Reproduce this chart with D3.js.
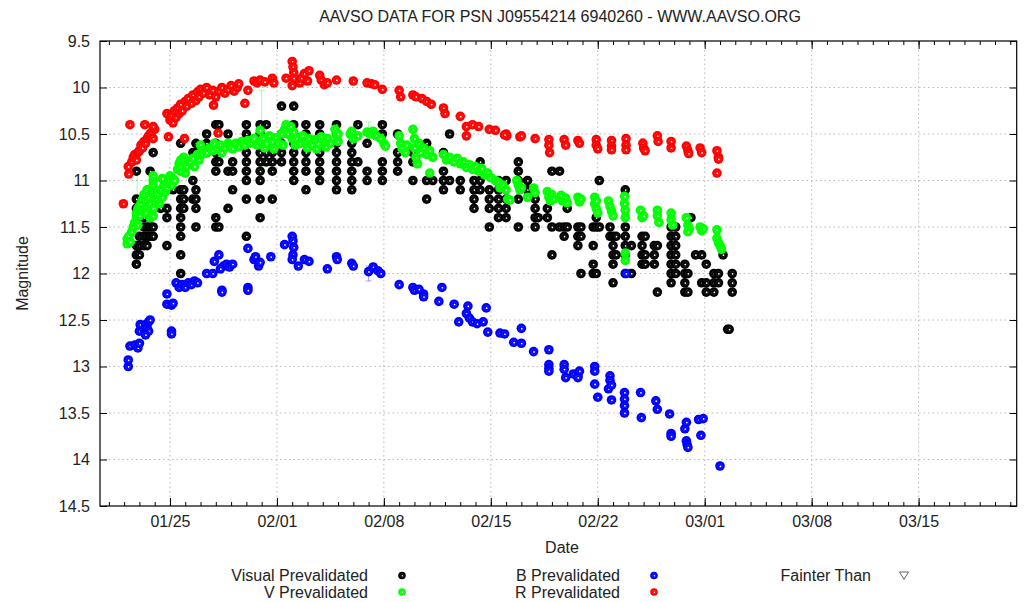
<html>
<head>
<meta charset="utf-8">
<script src="https://d3js.org/d3.v7.min.js"></script>
<style>
body { margin: 0; background: white; }
svg { display: block; font-family: "Liberation Sans", Arial, sans-serif; }
.tick text { font-size: 16px; fill: #222; font-family: "Liberation Sans", Arial, sans-serif; }
.lbl { font-size: 16px; fill: #222; }
</style>
</head>
<body>
<svg width="1030" height="602"></svg>
<script>
// days are day-of-year 2014 (25 = Jan 25, 32 = Feb 1, 60 = Mar 1)
var title = "AAVSO DATA FOR PSN J09554214 6940260 - WWW.AAVSO.ORG";
var dayRange = [20.42, 80.42];
var magRange = [9.5, 14.5];
var majorDays = [25, 32, 39, 46, 53, 60, 67, 74];
var magTicks = [9.5, 10, 10.5, 11, 11.5, 12, 12.5, 13, 13.5, 14, 14.5];

// visual estimates, grouped by night: [day, [magnitudes]]
var visualObs = [
  [22.8, [10.9, 11.2, 11.3, 11.7, 11.8, 11.9]],
  [23.0, [11.6, 11.7, 11.8]],
  [23.3, [11.4, 11.5, 11.6, 11.7]],
  [23.5, [11.5, 11.6, 11.7]],
  [23.7, [10.9, 11.4, 11.5, 11.6]],
  [23.9, [10.7, 11.5, 11.6]],
  [24.4, [11.3]],
  [24.8, [11.0, 11.3, 11.4, 11.7]],
  [25.2, [11.0, 11.1]],
  [25.7, [10.6, 11.1, 11.2, 11.3, 11.4, 11.5, 11.6, 11.8, 12.0]],
  [25.9, [11.1, 11.2, 11.3]],
  [26.5, [10.7, 11.0, 11.2]],
  [26.7, [10.6, 10.7, 11.1, 11.2, 11.3, 11.5]],
  [27.4, [10.5, 10.6, 10.7]],
  [28.0, [10.4, 10.6, 10.7, 10.8, 10.9, 11.4, 11.5]],
  [28.2, [10.4, 10.8, 11.5]],
  [28.8, [10.5, 10.9, 11.3]],
  [29.1, [10.8, 10.9, 11.1]],
  [30.0, [10.4, 10.5, 10.6, 10.7, 10.8, 10.9, 11.0, 11.2, 11.6]],
  [30.9, [10.4, 10.5, 10.7, 10.8, 10.9, 11.0, 11.2, 11.4]],
  [31.3, [10.4, 10.7, 10.8]],
  [31.7, [10.6, 10.7, 10.8, 10.9, 11.2]],
  [32.3, [10.2, 10.5, 10.6, 10.7, 10.8]],
  [33.1, [10.2, 10.4, 10.5, 10.6, 10.7, 10.8, 10.9, 11.0]],
  [33.9, [10.4, 10.5, 10.7, 10.8, 10.9, 11.1]],
  [34.8, [10.4, 10.5, 10.6, 10.7, 10.8, 10.9, 11.0]],
  [35.9, [10.4, 10.5, 10.6, 10.7, 10.8, 10.9, 11.0, 11.1]],
  [36.9, [10.5, 10.6, 10.7, 10.8, 10.9, 11.0, 11.1]],
  [37.3, [10.4, 10.8]],
  [37.9, [10.6, 10.9, 11.0]],
  [38.9, [10.4, 10.5, 10.8, 10.9, 11.0]],
  [39.9, [10.5, 10.7, 10.8, 10.9]],
  [40.9, [10.7, 10.8, 11.0]],
  [41.8, [10.6, 11.0, 11.2]],
  [42.2, [11.0]],
  [42.9, [10.7, 10.9, 11.0, 11.1]],
  [43.3, [10.5, 11.0]],
  [44.0, [11.0, 11.1]],
  [44.9, [11.0, 11.1, 11.2, 11.3]],
  [45.3, [10.8, 11.0, 11.1]],
  [45.9, [11.1, 11.2, 11.3, 11.5]],
  [46.5, [11.0, 11.1, 11.2, 11.3, 11.4]],
  [47.0, [11.0, 11.2, 11.3, 11.4]],
  [47.8, [10.8, 10.9, 11.0, 11.2, 11.5]],
  [48.4, [11.0, 11.1]],
  [48.9, [11.2, 11.3, 11.4, 11.5]],
  [49.1, [11.4]],
  [49.7, [11.3, 11.4]],
  [50.0, [10.9, 11.5, 11.8]],
  [50.5, [10.9, 11.5]],
  [50.8, [11.5, 11.6]],
  [51.0, [11.3, 11.5]],
  [51.7, [11.5, 11.6, 11.7]],
  [51.9, [11.5, 11.6, 12.0]],
  [52.7, [11.5, 11.7, 11.9, 12.0]],
  [52.9, [11.4, 11.5, 12.0]],
  [53.1, [11.0, 11.5]],
  [53.8, [11.5, 11.6]],
  [54.0, [11.6, 11.7, 11.8, 11.9, 12.1]],
  [54.2, [11.6, 11.8]],
  [54.8, [11.1, 11.5, 11.6, 11.7, 11.8, 12.0]],
  [55.2, [11.7, 12.0]],
  [55.9, [11.6, 11.7, 11.8, 11.9]],
  [56.1, [11.6, 11.8, 11.9]],
  [56.7, [11.7, 11.8, 11.9]],
  [56.9, [11.7, 12.2]],
  [57.8, [11.5, 11.6, 11.7, 11.8, 11.9, 12.0, 12.1]],
  [58.1, [11.5, 11.6, 11.7, 11.8, 11.9, 12.0]],
  [58.7, [11.9, 12.0, 12.1, 12.2]],
  [58.9, [12.0, 12.2]],
  [59.1, [11.4]],
  [59.4, [11.8]],
  [59.8, [11.8, 12.1]],
  [60.1, [11.9, 12.1, 12.2]],
  [60.6, [12.0, 12.1, 12.2]],
  [60.9, [12.0, 12.1]],
  [61.2, [11.8]],
  [61.5, [12.6]],
  [61.6, [12.6]],
  [61.8, [12.0, 12.1, 12.2]]
];

// V band: [day, magnitude]
var vObs = [
  [22.2,11.68],[22.2,11.63],[22.3,11.60],[22.4,11.66],[22.5,11.55],[22.6,11.50],
  [22.7,11.45],[22.8,11.40],[22.8,11.35],[22.9,11.30],[23.0,11.28],[23.0,11.38],[22.9,11.48],
  [23.1,11.25],[23.2,11.20],[23.2,11.32],[23.3,11.15],[23.4,11.22],[23.4,11.35],[23.5,11.10],
  [23.5,11.28],[23.6,11.18],[23.7,11.25],[23.7,11.40],[23.8,11.12],[23.9,11.00],[23.9,10.95],
  [23.9,11.05],[23.9,11.15],[23.9,11.30],[23.9,11.38],
  [24.1,11.20],[24.2,11.15],[24.3,11.25],[24.4,11.10],[24.5,11.18],[24.5,10.98],[24.6,11.05],[24.7,11.12],[24.8,11.08],
  [24.9,11.00],[25.0,10.95],[25.1,11.05],[25.2,10.98],[25.3,11.00],[25.5,10.88],
  [25.6,10.82],[25.7,10.78],[25.7,10.90],[25.8,10.85],[25.9,10.75],[26.0,10.80],[26.0,10.92],[26.1,10.85],
  [26.3,10.80],[26.5,10.76],[26.6,10.85],[26.8,10.72],[26.9,10.78],
  [27.0,10.62],[27.1,10.68],[27.1,10.72],
  [27.4,10.70],[27.6,10.65],[27.8,10.68],[27.9,10.60],[28.1,10.66],[28.3,10.62],[28.4,10.70],
  [28.6,10.65],[28.8,10.60],[28.9,10.63],[29.1,10.66],
  [29.3,10.60],[29.5,10.64],[29.7,10.58],[29.9,10.62],[30.1,10.57],[30.3,10.60],[30.5,10.55],
  [30.7,10.62],[30.9,10.58],[30.9,10.46],
  [31.1,10.55],[31.2,10.65],[31.3,10.60],[31.5,10.52],[31.7,10.58],[31.8,10.66],[31.9,10.54],
  [32.1,10.60],[32.3,10.50],[32.4,10.62],
  [32.5,10.45],[32.6,10.40],[32.7,10.50],[32.9,10.42],[33.0,10.55],[33.1,10.48],[33.2,10.62],
  [33.3,10.55],[33.5,10.60],[33.7,10.52],[33.9,10.58],[34.0,10.65],[34.1,10.55],[34.3,10.62],[34.5,10.56],
  [34.6,10.66],[34.7,10.60],[34.9,10.53],[35.1,10.58],[35.2,10.64],[35.3,10.55],[35.5,10.60],
  [35.8,10.45],[35.9,10.52],[36.0,10.50],[36.0,10.58],
  [36.8,10.50],[36.9,10.47],[37.0,10.55],[37.3,10.52],
  [37.9,10.48],[38.1,10.50],[38.3,10.47],[38.5,10.52],
  [38.8,10.55],[39.0,10.60],[39.1,10.63],
  [40.0,10.52],[40.1,10.60],[40.2,10.66],[40.4,10.70],[40.5,10.62],
  [40.9,10.45],[41.0,10.55],[41.0,10.65],[41.1,10.75],[41.2,10.82],[41.3,10.60],[41.4,10.70],
  [41.6,10.65],[41.8,10.72],[42.0,10.68],[42.2,10.75],[42.0,10.92],
  [42.9,10.72],[43.1,10.78],[43.3,10.75],[43.6,10.80],[43.8,10.76],[44.0,10.82],
  [44.2,10.80],[44.4,10.86],[44.6,10.83],[44.8,10.88],[45.0,10.85],
  [45.2,10.90],[45.4,10.87],[45.6,10.94],[45.8,10.92],[46.0,10.97],
  [46.3,11.00],[46.5,11.02],[46.6,11.08],[46.8,11.05],[47.0,11.10],[47.1,11.20],[47.25,11.21],
  [47.7,11.00],[47.8,11.05],[47.9,11.10],[48.0,11.08],[48.4,11.18],[48.8,11.08],[48.9,11.13],
  [49.7,11.12],[49.8,11.18],[49.9,11.22],[50.0,11.15],[50.1,11.20],
  [50.6,11.16],[50.7,11.22],[50.9,11.19],[51.0,11.24],
  [51.7,11.18],[51.8,11.23],[51.9,11.20],
  [52.8,11.18],[52.8,11.25],[52.9,11.30],[53.0,11.35],[52.9,11.22],
  [53.7,11.22],[53.8,11.28],[53.9,11.33],[54.0,11.38],
  [54.75,11.17],[54.75,11.25],[54.8,11.32],[54.8,11.40],[54.8,11.78],[54.8,11.86],
  [55.8,11.32],[55.9,11.40],[56.0,11.38],
  [56.9,11.32],[56.9,11.38],[57.0,11.45],
  [57.8,11.35],[57.8,11.42],[57.9,11.48],
  [58.8,11.40],[58.9,11.48],[59.0,11.52],[58.9,11.55],
  [59.7,11.50],[59.8,11.54],[59.9,11.52],
  [60.8,11.53],[60.8,11.62],[60.9,11.67],[61.0,11.70],[61.1,11.74]
];

// B band
var bObs = [
  [22.27,13.0],[22.27,12.93],[22.38,12.78],[22.7,12.77],[22.9,12.8],[23.0,12.75],[23.0,12.62],
  [23.05,12.55],[23.3,12.6],[23.4,12.55],[23.5,12.58],[23.6,12.52],[23.7,12.5],[23.6,12.62],[23.4,12.66],
  [24.8,12.22],[24.8,12.33],[25.1,12.34],[25.2,12.32],[25.1,12.62],[25.1,12.65],
  [25.4,12.1],[25.6,12.15],[25.8,12.12],[26.0,12.15],[26.2,12.1],[26.4,12.12],[26.6,12.08],[26.8,12.1],
  [27.4,12.0],[27.8,12.0],[27.9,11.87],[28.2,11.8],[28.5,11.92],[28.7,11.9],[28.9,11.93],[29.1,11.9],[28.3,11.95],
  [28.4,12.18],[28.4,12.2],[30.1,12.15],[30.1,12.18],
  [30.1,11.73],[30.5,11.85],[30.6,11.82],[30.8,11.92],[30.9,11.88],[31.6,11.82],
  [32.5,11.69],[33.0,11.6],[33.05,11.65],[33.1,11.72],[33.05,11.8],[33.0,11.85],[33.4,11.92],[33.8,11.85],[34.1,11.87],
  [35.3,11.95],[35.9,11.82],[35.95,11.85],[36.9,11.89],[37.0,11.92],
  [38.0,11.98],[38.3,11.93],[38.6,11.97],[38.8,12.0],
  [40.0,12.12],[40.9,12.15],[41.0,12.18],[41.3,12.17],[41.6,12.22],[41.6,12.25],[42.6,12.3],[42.8,12.15],
  [43.6,12.33],[43.9,12.52],[44.5,12.35],[44.4,12.43],[44.6,12.48],[44.8,12.52],[45.1,12.54],[45.5,12.52],
  [45.7,12.37],[45.8,12.63],[46.6,12.64],[47.5,12.74],
  [46.9,12.65],[48.0,12.59],[48.0,12.75],[48.8,12.84],[49.8,12.82],[49.8,12.98],[49.8,13.02],[49.8,13.05],
  [50.8,12.98],[50.8,13.03],[50.9,13.12],[51.4,13.08],[51.7,13.1],[51.8,13.05],[51.7,13.12],
  [52.8,13.0],[52.8,13.05],[52.8,13.19],[53.0,13.33],[53.7,13.24],[53.8,13.1],[53.8,13.15],[53.9,13.2],[53.9,13.36],
  [54.75,13.28],[54.75,13.35],[54.75,13.42],[54.75,13.5],[54.85,12.0],[55.8,13.28],[55.85,13.55],
  [56.8,13.37],[56.9,13.46],[57.7,13.51],[57.8,13.72],[57.8,13.75],
  [58.7,13.67],[58.8,13.6],[58.8,13.8],[58.85,13.84],[58.9,13.87],[59.6,13.57],[59.9,13.56],[59.75,13.74],
  [61.0,14.07]
];

// R band
var rObs = [
  [21.95,11.25],[22.27,10.85],[22.3,10.93],[22.38,10.40],
  [22.5,10.80],[22.6,10.75],[22.7,10.72],[22.8,10.78],[22.9,10.70],[23.0,10.68],
  [23.1,10.62],[23.2,10.65],[23.3,10.58],[23.4,10.60],[23.5,10.55],[23.6,10.52],[23.7,10.50],
  [23.8,10.48],[23.9,10.55],[24.0,10.45],[23.35,10.40],[23.9,10.42],
  [24.8,10.28],[24.9,10.53],
  [25.0,10.35],[25.1,10.30],[25.2,10.38],[25.3,10.25],[25.4,10.32],[25.5,10.22],[25.6,10.28],
  [25.7,10.18],[25.8,10.25],[26.0,10.15],[25.95,10.55],
  [26.1,10.20],[26.2,10.12],[26.4,10.17],[26.5,10.08],[26.7,10.14],[26.8,10.05],[26.9,10.10],
  [27.0,10.02],[27.2,10.06],[27.4,10.00],[27.6,10.08],[27.8,10.03],[28.0,10.10],[28.2,10.04],
  [28.4,10.00],[28.6,10.06],[28.8,10.02],[29.0,9.98],[29.2,10.04],[29.4,10.00],[29.5,9.96],
  [27.85,10.19],[28.15,10.49],[29.9,10.17],[30.1,10.03],
  [30.5,9.93],[30.7,9.95],[30.9,9.92],[31.2,9.94],[31.7,9.90],[31.8,9.95],[32.6,9.90],
  [33.0,9.72],[33.05,9.78],[33.1,9.84],[33.1,9.90],[33.0,9.98],
  [33.5,9.95],[33.6,9.90],[33.8,9.85],[34.0,9.93],[34.1,9.82],
  [34.8,9.87],[34.9,9.92],[35.1,9.97],[35.3,9.95],[35.9,9.92],[37.0,9.93],
  [37.9,9.95],[38.2,9.96],[38.4,9.97],[38.9,10.02],
  [40.0,10.03],[40.1,10.10],[40.9,10.08],[41.1,10.10],
  [41.5,10.12],[41.8,10.15],[42.1,10.18],[42.9,10.22],[43.0,10.28],[44.0,10.31],
  [44.4,10.42],[44.4,10.52],[44.8,10.40],[45.2,10.42],[45.9,10.45],[46.3,10.46],
  [47.0,10.50],[47.05,10.52],[47.9,10.53],[46.9,10.51],[48.0,10.52],[48.9,10.55],
  [49.8,10.56],[49.8,10.62],[49.85,10.70],[50.8,10.56],[50.9,10.62],[51.7,10.57],[51.8,10.60],
  [52.9,10.56],[52.9,10.62],[53.0,10.66],[53.9,10.57],[53.9,10.63],[53.9,10.67],
  [54.85,10.55],[54.85,10.62],[54.85,10.67],[55.95,10.60],[56.0,10.65],[56.1,10.68],
  [56.9,10.52],[56.95,10.58],[57.8,10.58],[57.8,10.65],
  [58.8,10.63],[58.9,10.68],[58.95,10.71],[59.7,10.65],[59.8,10.70],
  [60.8,10.68],[60.9,10.75],[60.9,10.77],[60.8,10.92]
];

// error bars: [band, day, magnitude, error]
var errorBars = [
  ["V", 22.85, 11.40, 0.50],
  ["V", 31.0, 10.44, 0.41],
  ["V", 38.0, 10.43, 0.06],
  ["B", 38.0, 12.00, 0.08],
  ["R", 49.8, 10.58, 0.04],
  ["R", 55.95, 10.62, 0.07]
];

var bandColors = { Vis: "#000000", V: "#00ff00", B: "#0000ff", R: "#ff0000" };

var legendItems = [
  { label: "Visual Prevalidated", band: "Vis", col: 0, row: 0 },
  { label: "V Prevalidated", band: "V", col: 0, row: 1 },
  { label: "B Prevalidated", band: "B", col: 1, row: 0 },
  { label: "R Prevalidated", band: "R", col: 1, row: 1 },
  { label: "Fainter Than", band: "fainter", col: 2, row: 0 }
];

var margin = { top: 41, right: 13.3, bottom: 96, left: 100 };
var width = 1030 - margin.left - margin.right;
var height = 602 - margin.top - margin.bottom;

function dayToDate(d) {
  return new Date(Date.UTC(2014, 0, 1) + (d - 1) * 864e5);
}

var x = d3.scaleUtc().domain(dayRange.map(dayToDate)).range([0, width]);
var y = d3.scaleLinear().domain(magRange).range([0, height]);

var svg = d3.select("svg");
var plot = svg.append("g").attr("transform", "translate(" + margin.left + "," + margin.top + ")");

// grid
plot.append("g").selectAll("line").data(majorDays).enter().append("line")
  .attr("x1", d => x(dayToDate(d))).attr("x2", d => x(dayToDate(d)))
  .attr("y1", 0).attr("y2", height)
  .attr("stroke", "#b8b8b8").attr("stroke-width", 1).attr("stroke-dasharray", "1.5,3");
plot.append("g").selectAll("line").data(magTicks.slice(1, -1)).enter().append("line")
  .attr("y1", d => y(d)).attr("y2", d => y(d))
  .attr("x1", 0).attr("x2", width)
  .attr("stroke", "#b8b8b8").attr("stroke-width", 1).attr("stroke-dasharray", "1.5,3");

// axes
var minorDates = d3.range(21, 81).map(dayToDate);
var majorDates = majorDays.map(dayToDate);
var fmtDate = d3.utcFormat("%m/%d");

function styleAxis(g) {
  g.select(".domain").remove();
  g.selectAll(".tick line").attr("stroke", "#000").attr("stroke-width", 1);
}

plot.append("g").attr("transform", "translate(0," + height + ")")
  .call(d3.axisBottom(x).tickValues(minorDates).tickSize(-4).tickFormat(""))
  .call(styleAxis);
plot.append("g").attr("transform", "translate(0," + height + ")")
  .call(d3.axisBottom(x).tickValues(majorDates).tickSize(-8).tickPadding(10).tickFormat(fmtDate))
  .call(styleAxis);
plot.append("g")
  .call(d3.axisTop(x).tickValues(minorDates).tickSize(-4).tickFormat(""))
  .call(styleAxis);
plot.append("g")
  .call(d3.axisTop(x).tickValues(majorDates).tickSize(-8).tickFormat(""))
  .call(styleAxis);
plot.append("g")
  .call(d3.axisLeft(y).tickValues(magTicks).tickSize(-7).tickPadding(10).tickFormat(d3.format("~g")))
  .call(styleAxis);
plot.append("g").attr("transform", "translate(" + width + ",0)")
  .call(d3.axisRight(y).tickValues(magTicks).tickSize(-7).tickFormat(""))
  .call(styleAxis);

plot.append("rect").attr("width", width).attr("height", height)
  .attr("fill", "none").attr("stroke", "#000").attr("stroke-width", 1.2);

// error bars
var eb = plot.append("g").selectAll("g").data(errorBars).enter().append("g")
  .attr("stroke", d => bandColors[d[0]]).attr("stroke-opacity", 0.35).attr("stroke-width", 1);
eb.append("line")
  .attr("x1", d => x(dayToDate(d[1]))).attr("x2", d => x(dayToDate(d[1])))
  .attr("y1", d => y(d[2] - d[3])).attr("y2", d => y(d[2] + d[3]));
eb.append("line")
  .attr("x1", d => x(dayToDate(d[1])) - 3).attr("x2", d => x(dayToDate(d[1])) + 3)
  .attr("y1", d => y(d[2] - d[3])).attr("y2", d => y(d[2] - d[3]));
eb.append("line")
  .attr("x1", d => x(dayToDate(d[1])) - 3).attr("x2", d => x(dayToDate(d[1])) + 3)
  .attr("y1", d => y(d[2] + d[3])).attr("y2", d => y(d[2] + d[3]));

function marker(sel, color, r) {
  sel.append("circle").attr("r", r).attr("fill", color);
  sel.append("circle").attr("r", r * 0.5).attr("fill", "none")
    .attr("stroke", "#fff").attr("stroke-width", 0.4).attr("stroke-opacity", 0.25);
  sel.append("circle").attr("cx", 0.4).attr("cy", 0.3).attr("r", r * 0.18).attr("fill", "#fff");
}

function drawPoints(data, color) {
  var pts = plot.append("g").selectAll("g").data(data).enter().append("g")
    .attr("transform", d => "translate(" + x(dayToDate(d[0])) + "," + y(d[1]) + ")");
  marker(pts, color, 4.8);
}

var visualPoints = visualObs.flatMap(n => n[1].map(m => [n[0], m]));
drawPoints(visualPoints, bandColors.Vis);
drawPoints(bObs, bandColors.B);
drawPoints(vObs, bandColors.V);
drawPoints(rObs, bandColors.R);

// titles
svg.append("text").attr("class", "lbl").attr("x", 560).attr("y", 22)
  .attr("text-anchor", "middle").text(title);
svg.append("text").attr("class", "lbl").attr("x", 562).attr("y", 553)
  .attr("text-anchor", "middle").text("Date");
svg.append("text").attr("class", "lbl")
  .attr("transform", "translate(28," + (margin.top + height / 2) + ") rotate(-90)")
  .attr("text-anchor", "middle").text("Magnitude");

// legend
var colText = [368, 620, 871];
var colSym = [402, 654, 904];
var rowY = [575.5, 592];
var leg = svg.append("g").selectAll("g").data(legendItems).enter().append("g");
leg.append("text").attr("class", "lbl")
  .attr("x", d => colText[d.col]).attr("y", d => rowY[d.row] + 5.5)
  .attr("text-anchor", "end").text(d => d.label);
leg.each(function(d) {
  var g = d3.select(this).append("g")
    .attr("transform", "translate(" + colSym[d.col] + "," + rowY[d.row] + ")");
  if (d.band == "fainter") {
    g.append("path").attr("d", "M-4.5,-3.5 L4.5,-3.5 L0,4 Z")
      .attr("fill", "none").attr("stroke", "#666").attr("stroke-width", 1);
  } else {
    marker(g, bandColors[d.band], 3.8);
  }
});
</script>
</body>
</html>
